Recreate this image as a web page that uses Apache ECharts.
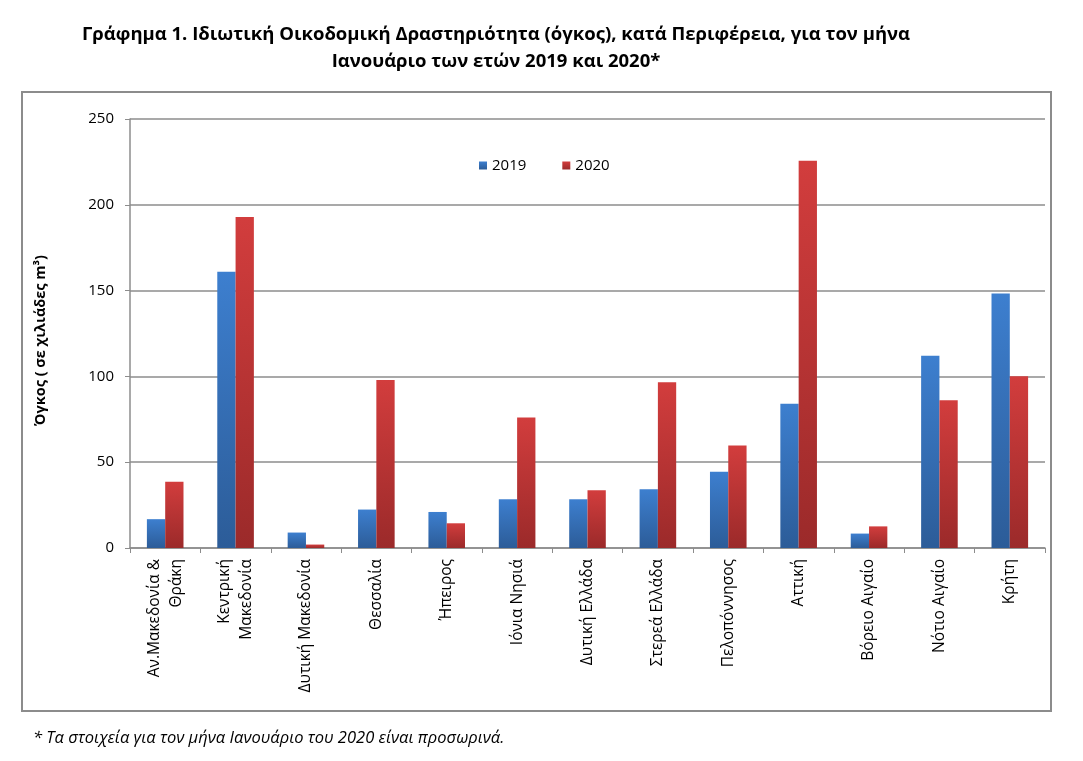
<!DOCTYPE html>
<html><head><meta charset="utf-8">
<script src="https://cdn.jsdelivr.net/npm/echarts@6/dist/echarts.min.js"></script>
<style>html,body{margin:0;padding:0;background:#fff}#c{width:1083px;height:761px}</style>
</head><body><div id="c"></div>
<script>
const categories = ['Αν.Μακεδονία &\nΘράκη','Κεντρική\nΜακεδονία','Δυτική Μακεδονία','Θεσσαλία','Ήπειρος','Ιόνια Νησιά','Δυτική Ελλάδα','Στερεά Ελλάδα','Πελοπόννησος','Αττική','Βόρειο Αιγαίο','Νότιο Αιγαίο','Κρήτη'];
const values2019 = [16.8, 161, 9.0, 22.4, 21, 28.4, 28.4, 34.2, 44.5, 84.1, 8.4, 112.1, 148.3];
const values2020 = [38.6, 192.9, 2.0, 97.9, 14.4, 76, 33.6, 96.6, 59.7, 225.7, 12.6, 86.1, 100.1];
const yTicks = [0, 50, 100, 150, 200, 250];

const chart = echarts.init(document.getElementById('c'));
const font = '"Open Sans", "Noto Sans", sans-serif';
function grad(top, bottom){
  return new echarts.graphic.LinearGradient(0,0,0,1,[{offset:0,color:top},{offset:1,color:bottom}]);
}
chart.setOption({
  backgroundColor:'#fff',
  animation:false,
  title:[{
    text:'Γράφημα 1. Ιδιωτική Οικοδομική Δραστηριότητα (όγκος), κατά Περιφέρεια, για τον μήνα\nΙανουάριο των ετών 2019 και 2020*',
    left:491, top:16, textAlign:'center',
    textStyle:{fontFamily:font,fontWeight:'bold',fontSize:18.5,color:'#000',lineHeight:27}
  },{
    text:'* Τα στοιχεία για τον μήνα Ιανουάριο του 2020 είναι προσωρινά.',
    left:28, top:725,
    textStyle:{fontFamily:font,fontStyle:'italic',fontWeight:'normal',fontSize:16.5,color:'#000'}
  }],
  legend:{
    data:['2019','2020'], left:474, top:153, itemWidth:8, itemHeight:8, itemGap:36,
    icon:'rect',
    textStyle:{fontFamily:font,fontSize:15,color:'#000'}
  },
  graphic:[{type:'rect',shape:{x:22,y:92,width:1029,height:619},style:{fill:'none',stroke:'#8c8c8c',lineWidth:2},silent:true}],
  grid:{left:130,right:1083-1045,top:119,bottom:761-548},
  xAxis:{
    type:'category', data:categories,
    axisLine:{lineStyle:{color:'#8c8c8c',width:1.5}},
    axisTick:{show:true,length:5,lineStyle:{color:'#8c8c8c'}},
    axisLabel:{rotate:90,fontFamily:font,fontSize:15.5,color:'#000',margin:11,lineHeight:22,interval:0}
  },
  yAxis:{
    type:'value', min:0, max:250, interval:50,
    name:'Όγκος ( σε χιλιάδες m³)', nameLocation:'middle', nameGap:82,
    nameTextStyle:{fontFamily:font,fontWeight:'bold',fontSize:14.5,color:'#000',padding:[0,14,0,0]},
    axisLine:{show:true,lineStyle:{color:'#8c8c8c',width:1.5}},
    axisTick:{show:true,length:5,lineStyle:{color:'#8c8c8c'}},
    axisLabel:{fontFamily:font,fontSize:15,color:'#000',margin:16,
      formatter:function(v){return yTicks.indexOf(v)>=0?String(v):'';}},
    splitLine:{lineStyle:{color:'#8c8c8c',width:1.5}}
  },
  series:[{
    name:'2019', type:'bar', data:values2019, barGap:'0%', barCategoryGap:'48%',
    itemStyle:{color:grad('#3d7fcf','#2c5c98')}
  },{
    name:'2020', type:'bar', data:values2020, barGap:'0%', barCategoryGap:'48%',
    itemStyle:{color:grad('#d23d3d','#9b2a2a')}
  }]
});
</script></body></html>
